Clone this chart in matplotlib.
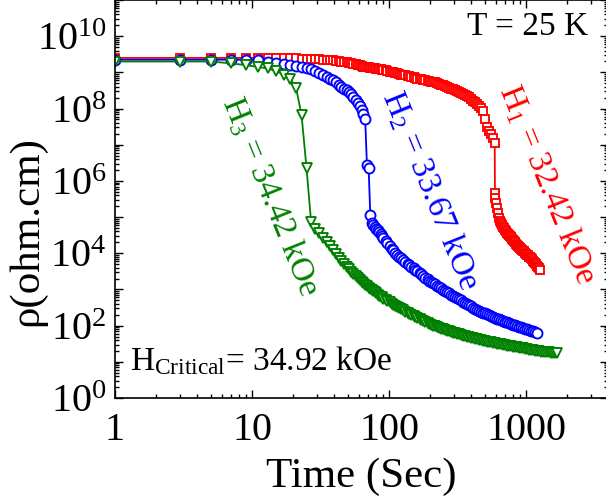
import numpy as np
import matplotlib

matplotlib.use("Agg")
import matplotlib.pyplot as plt
from matplotlib.ticker import LogLocator, FuncFormatter, NullFormatter

plt.rcParams["font.family"] = ["Liberation Serif", "DejaVu Serif"]
plt.rcParams["mathtext.fontset"] = "custom"
plt.rcParams["mathtext.rm"] = "Liberation Serif"
plt.rcParams["mathtext.it"] = "Liberation Serif:italic"

# ---- data: (time in s, log10 of rho in ohm.cm) --------------------------
h1_points = [
    (1, 9.40), (3, 9.40), (5, 9.40), (7, 9.40), (9, 9.40), (11, 9.40),
    (13, 9.40), (15, 9.40), (17, 9.39), (19, 9.39), (21, 9.39), (23, 9.38),
    (25, 9.38), (27, 9.37), (29, 9.37), (31, 9.36), (33, 9.35), (35, 9.35),
    (37, 9.34), (39, 9.33), (41, 9.32), (43, 9.31), (45, 9.30), (47, 9.29),
    (49, 9.28), (51, 9.265), (53, 9.25), (55, 9.235), (57, 9.22), (59, 9.205),
    (61, 9.19), (63, 9.18), (65, 9.16), (67, 9.15), (69, 9.14), (71, 9.135),
    (73, 9.13), (75, 9.12), (77, 9.115), (79, 9.11), (81, 9.10), (83, 9.095),
    (85, 9.09), (87, 9.08), (89, 9.075), (91, 9.07), (95, 9.055), (97, 9.045),
    (101, 9.02), (105, 9.01), (107, 9.00), (111, 8.985), (115, 8.97),
    (119, 8.955), (123, 8.94), (127, 8.93), (131, 8.92), (137, 8.90),
    (141, 8.89), (145, 8.875), (151, 8.86), (155, 8.85), (161, 8.83),
    (167, 8.82), (171, 8.81), (177, 8.79), (183, 8.78), (191, 8.77),
    (197, 8.755), (203, 8.745), (211, 8.73), (217, 8.72), (225, 8.70),
    (233, 8.68), (241, 8.66), (249, 8.64), (257, 8.62), (265, 8.60),
    (275, 8.57), (285, 8.55), (293, 8.53), (303, 8.50), (313, 8.48),
    (325, 8.46), (335, 8.44), (347, 8.41), (359, 8.38), (371, 8.35),
    (383, 8.31), (397, 8.27), (411, 8.22), (425, 8.17), (439, 8.12),
    (453, 8.07), (469, 8.02), (485, 7.94), (501, 7.72), (519, 7.50),
    (535, 7.37), (553, 7.29), (573, 7.18), (591, 7.04), (593, 5.66),
    (597, 5.52), (603, 5.40), (613, 5.25), (623, 5.10), (633, 4.97),
    (643, 4.89), (655, 4.83), (665, 4.78), (677, 4.73), (689, 4.69),
    (699, 4.65), (711, 4.61), (723, 4.57), (737, 4.53), (749, 4.50),
    (761, 4.47), (773, 4.44), (787, 4.40), (801, 4.36), (813, 4.33),
    (827, 4.30), (841, 4.27), (855, 4.24), (869, 4.21), (885, 4.18),
    (899, 4.15), (915, 4.13), (931, 4.10), (945, 4.07), (961, 4.05),
    (977, 4.02), (993, 3.99), (1011, 3.96), (1027, 3.94), (1045, 3.91),
    (1063, 3.89), (1081, 3.86), (1099, 3.83), (1117, 3.79), (1137, 3.76),
    (1155, 3.72), (1175, 3.70), (1195, 3.66), (1215, 3.63), (1235, 3.59),
    (1259, 3.54),
]

h2_points = [
    (1, 9.35), (3, 9.35), (5, 9.35), (7, 9.35), (9, 9.35), (11, 9.34),
    (13, 9.30), (15, 9.27), (17, 9.24), (19, 9.21), (21, 9.18), (23, 9.15),
    (25, 9.12), (27, 9.08), (29, 9.03), (31, 8.98), (33, 8.93), (35, 8.88),
    (37, 8.83), (39, 8.78), (41, 8.72), (43, 8.66), (45, 8.60), (47, 8.55),
    (49, 8.50), (51, 8.45), (53, 8.39), (55, 8.33), (57, 8.25), (59, 8.16),
    (61, 8.07), (63, 7.96), (65, 7.84), (67, 7.71), (69, 6.44), (71, 6.36),
    (73, 5.06), (75, 4.83), (77, 4.78), (79, 4.73), (81, 4.68), (83, 4.63),
    (85, 4.58), (87, 4.53), (89, 4.48), (91, 4.43), (95, 4.33), (97, 4.29),
    (101, 4.19), (105, 4.11), (107, 4.08), (111, 4.02), (115, 3.96),
    (119, 3.91), (123, 3.86), (127, 3.81), (131, 3.77), (137, 3.71),
    (141, 3.67), (145, 3.63), (151, 3.58), (155, 3.55), (161, 3.50),
    (167, 3.45), (171, 3.42), (177, 3.37), (183, 3.33), (191, 3.28),
    (197, 3.24), (203, 3.21), (211, 3.17), (217, 3.14), (225, 3.10),
    (233, 3.06), (241, 3.03), (249, 2.99), (257, 2.96), (265, 2.93),
    (275, 2.89), (285, 2.86), (293, 2.83), (303, 2.79), (313, 2.76),
    (325, 2.73), (335, 2.70), (347, 2.66), (359, 2.63), (371, 2.60),
    (383, 2.57), (397, 2.53), (411, 2.50), (425, 2.47), (439, 2.44),
    (453, 2.41), (469, 2.39), (485, 2.36), (501, 2.34), (519, 2.31),
    (535, 2.29), (553, 2.26), (573, 2.24), (591, 2.22), (613, 2.19),
    (633, 2.17), (655, 2.15), (677, 2.13), (699, 2.11), (723, 2.09),
    (749, 2.07), (773, 2.05), (801, 2.03), (827, 2.01), (855, 1.99),
    (885, 1.97), (915, 1.95), (945, 1.94), (977, 1.92), (1011, 1.90),
    (1045, 1.88), (1081, 1.86), (1117, 1.84), (1155, 1.82), (1199, 1.80),
]

h3_points = [
    (1, 9.30), (3, 9.30), (5, 9.30), (7, 9.25), (9, 9.20), (11, 9.15),
    (13, 9.11), (15, 9.03), (17, 8.94), (19, 8.83), (21, 8.56), (23, 7.82),
    (25, 6.35), (27, 4.86), (29, 4.68), (31, 4.55), (33, 4.42), (35, 4.30),
    (37, 4.19), (39, 4.08), (41, 3.98), (43, 3.88), (45, 3.79), (47, 3.71),
    (49, 3.63), (51, 3.56), (53, 3.49), (55, 3.43), (57, 3.37), (59, 3.31),
    (61, 3.26), (63, 3.21), (65, 3.17), (67, 3.13), (69, 3.09), (71, 3.05),
    (73, 3.02), (75, 2.98), (77, 2.95), (79, 2.92), (81, 2.89), (83, 2.86),
    (85, 2.83), (87, 2.80), (89, 2.78), (91, 2.75), (95, 2.71), (97, 2.68),
    (101, 2.64), (105, 2.60), (107, 2.58), (111, 2.55), (115, 2.51),
    (119, 2.48), (123, 2.45), (127, 2.42), (131, 2.39), (137, 2.35),
    (141, 2.32), (145, 2.30), (151, 2.26), (155, 2.24), (161, 2.20),
    (167, 2.17), (171, 2.15), (177, 2.12), (183, 2.10), (191, 2.07),
    (197, 2.05), (203, 2.03), (211, 2.00), (217, 1.98), (225, 1.96),
    (233, 1.94), (241, 1.92), (249, 1.90), (257, 1.88), (265, 1.86),
    (275, 1.84), (285, 1.82), (293, 1.81), (303, 1.79), (313, 1.77),
    (325, 1.76), (335, 1.74), (347, 1.72), (359, 1.71), (371, 1.69),
    (383, 1.68), (397, 1.66), (411, 1.65), (425, 1.63), (439, 1.62),
    (453, 1.61), (469, 1.59), (485, 1.58), (501, 1.57), (519, 1.56),
    (535, 1.55), (553, 1.54), (573, 1.53), (591, 1.52), (613, 1.50),
    (633, 1.49), (655, 1.48), (677, 1.47), (699, 1.46), (723, 1.45),
    (749, 1.44), (773, 1.43), (801, 1.42), (827, 1.41), (855, 1.40),
    (885, 1.39), (915, 1.38), (945, 1.37), (977, 1.36), (1011, 1.35),
    (1045, 1.34), (1081, 1.33), (1117, 1.32), (1155, 1.31), (1195, 1.30),
    (1235, 1.29), (1277, 1.28), (1321, 1.28), (1367, 1.27), (1413, 1.26),
    (1461, 1.26), (1511, 1.25), (1561, 1.25), (1615, 1.24), (1671, 1.24),
]

series = [
    (h1_points, "red", "s", 6.0),
    (h2_points, "blue", "o", 7.2),
    (h3_points, "green", "v", 7.4),
]

fig = plt.figure(figsize=(6.06, 4.97), dpi=100)
# axes run off the right edge of the picture, as in the original
ax = fig.add_axes([115 / 606, 99 / 497, 493.5 / 606, 398 / 497])

for pts, col, mk, ms in series:
    t, lr = zip(*pts)
    ax.plot(t, 10.0 ** np.array(lr), "-", color=col, lw=1.3, marker=mk,
            ms=ms, mfc="white", mec=col, mew=1.35)

ax.set_xscale("log")
ax.set_yscale("log")
ax.set_xlim(1, 4000)
ax.set_ylim(1, 1e11)

ax.yaxis.set_major_locator(LogLocator(base=10, numticks=20))
ax.yaxis.set_minor_locator(LogLocator(base=10, subs=np.arange(2, 10), numticks=20))
ax.yaxis.set_major_formatter(FuncFormatter(
    lambda v, _: f"$10^{{{int(round(np.log10(v)))}}}$"
    if int(round(np.log10(v))) % 2 == 0 else ""))
ax.yaxis.set_minor_formatter(NullFormatter())
ax.xaxis.set_major_locator(LogLocator(base=10, numticks=10))
ax.xaxis.set_minor_locator(LogLocator(base=10, subs=np.arange(2, 10), numticks=10))
ax.xaxis.set_major_formatter(FuncFormatter(lambda v, _: f"{v:g}"))
ax.xaxis.set_minor_formatter(NullFormatter())

ax.tick_params(which="both", direction="in", top=True, right=True,
               width=1.0, labelsize=29)
ax.tick_params(which="major", length=5.5)
ax.tick_params(which="minor", length=3)
ax.tick_params(axis="y", pad=6)
ax.tick_params(axis="x", pad=10)
for sp in ax.spines.values():
    sp.set_linewidth(1.2)

ax.set_xlabel("Time (Sec)", fontsize=31, labelpad=6)
ax.set_ylabel("ρ(ohm.cm)", fontsize=31)
ax.yaxis.set_label_coords(-0.14, 0.42)

ax.text(0.958, 0.912, "T = 25 K", transform=ax.transAxes, ha="right",
        va="baseline", fontsize=24)
ax.text(0.03, 0.07, r"H$_{\mathrm{Critical}}$= 34.92 kOe",
        transform=ax.transAxes, ha="left", va="baseline", fontsize=24)

ax.text(1450, 8e5, r"H$_1$ = 32.42 kOe", color="red", fontsize=24,
        rotation=-68, ha="center", va="center", rotation_mode="anchor")
ax.text(203, 5.6e5, r"H$_2$ = 33.67 kOe", color="blue", fontsize=24,
        rotation=-68, ha="center", va="center", rotation_mode="anchor")
ax.text(13.8, 3.8e5, r"H$_3$ = 34.42 kOe", color="green", fontsize=24,
        rotation=-68, ha="center", va="center", rotation_mode="anchor")

fig.savefig("out.png", dpi=100)
